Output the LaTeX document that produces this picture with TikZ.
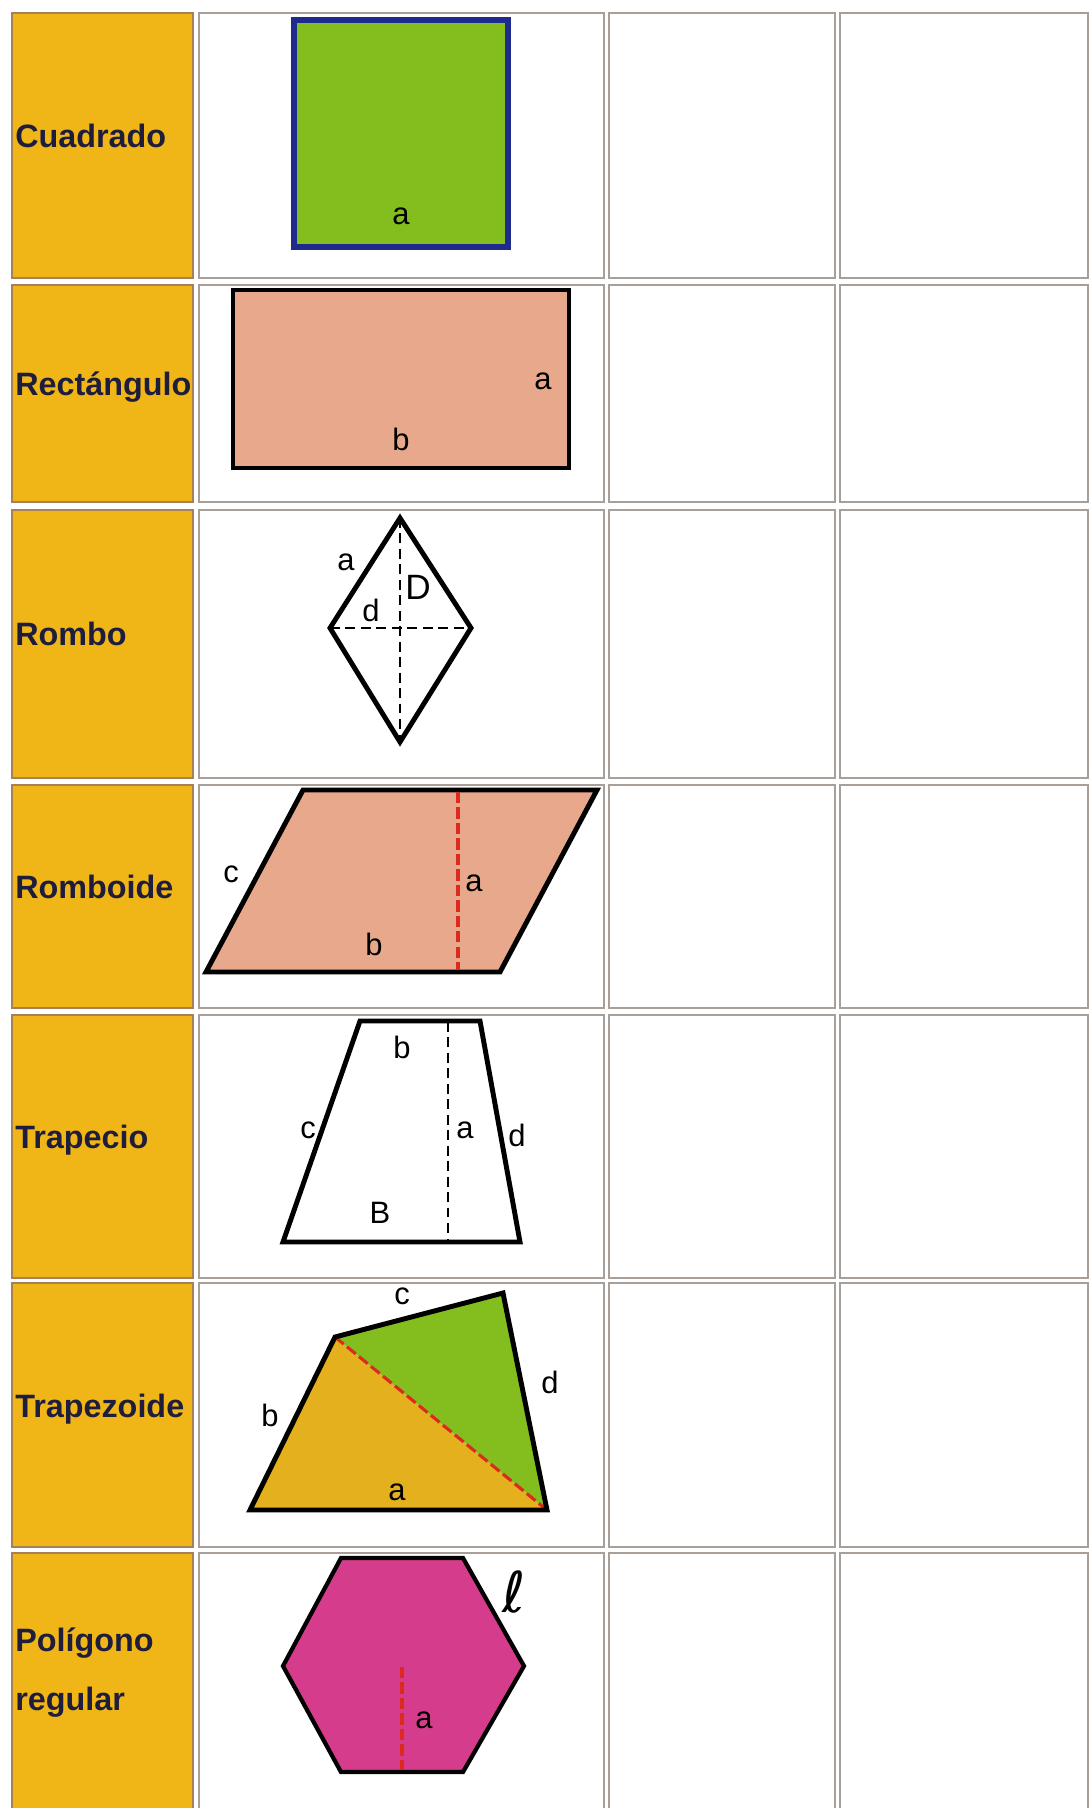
\documentclass[tikz,border=0pt]{standalone}
\usepackage{fontspec}
\setmainfont{Liberation Sans}
\newfontfamily\ellfont{DejaVu Sans}
\usepackage{tikz}
\usetikzlibrary{positioning}
\definecolor{cellgold}{HTML}{F0B618}
\definecolor{cellrule}{HTML}{A8A098}
\definecolor{labelink}{HTML}{1E1E3C}
\definecolor{leafgreen}{HTML}{84BE1E}
\definecolor{salmon}{HTML}{E8A88C}
\definecolor{navyrule}{HTML}{1E2A8C}
\definecolor{hexpink}{HTML}{D63C8C}
\definecolor{trapgold}{HTML}{E4B01E}
\definecolor{heightred}{HTML}{DC2A1E}
\tikzstyle{cell} = [draw=cellrule, line width=0.8pt]
\tikzstyle{goldcell} = [cell, fill=cellgold, draw=brown!60!gray]
\tikzstyle{rowname} = [anchor=base west, inner sep=0pt, align=left,
    font=\bfseries\fontsize{23}{42}\selectfont, text=labelink]
\tikzstyle{sidelabel} = [inner sep=0pt, font=\fontsize{22}{22}\selectfont, text=black]
\tikzstyle{outline} = [draw=black, line width=3.5pt, line join=miter]
\tikzstyle{diagline} = [draw=black, line width=1.6pt, dash pattern=on 7pt off 4pt]
\tikzstyle{heightline} = [draw=heightred, line width=2.6pt, dash pattern=on 8pt off 3pt]

\begin{document}
\begin{tikzpicture}[x=0.025cm, y=-0.025cm]
    \useasboundingbox (0,0) rectangle (1090,1808);
    \clip (0,0) rectangle (1090,1808);
    % Grid
    \foreach \ya/\yb in {13/278, 285/502, 510/778, 785/1008, 1015/1278, 1283/1547, 1553/1830} {
        \draw [goldcell] (12,\ya) rectangle (193,\yb);
        \draw [cell] (199,\ya) rectangle (604,\yb);
        \draw [cell] (609,\ya) rectangle (835,\yb);
        \draw [cell] (840,\ya) rectangle (1088,\yb);
    }
    % Row names
    \node [rowname] (cuadrado) at (15,147) {Cuadrado};
    \node [rowname] (rectangulo) at (15,395) {Rectángulo};
    \node [rowname] (rombo) at (15,645) {Rombo};
    \node [rowname] (romboide) at (15,898) {Romboide};
    \node [rowname] (trapecio) at (15,1148) {Trapecio};
    \node [rowname] (trapezoide) at (15,1417) {Trapezoide};
    \node [rowname, anchor=north west] (poligono) at (15,1627) {Polígono\\regular};
    % Cuadrado
    \draw [outline, draw=navyrule, line width=4pt, fill=leafgreen] (294,20) rectangle (508,247);
    \node [sidelabel] (sqa) at (401,216) {a};
    % Rectangulo
    \draw [outline, fill=salmon] (233,290) rectangle (569,468);
    \node [sidelabel] (reca) at (543,381) {a};
    \node [sidelabel] (recb) at (401,439) {b};
    % Rombo
    \draw [diagline] (400,518) -- (400,742);
    \draw [diagline] (330,628) -- (471,628);
    \draw [outline] (400,518) -- (471,628) -- (400,742) -- (330,628) -- cycle;
    \node [sidelabel] (roma) at (346,562) {a};
    \node [sidelabel, font=\fontsize{25}{25}\selectfont] (romD) at (418,587) {D};
    \node [sidelabel] (romd) at (371,610) {d};
    % Romboide
    \draw [outline, fill=salmon] (303,790) -- (597,790) -- (500,972) -- (206,972) -- cycle;
    \draw [heightline] (458,792) -- (458,970);
    \node [sidelabel] (rbc) at (231,874) {c};
    \node [sidelabel] (rba) at (474,883) {a};
    \node [sidelabel] (rbb) at (374,944) {b};
    % Trapecio
    \draw [diagline] (448,1022) -- (448,1241);
    \draw [outline] (360,1021) -- (480,1021) -- (520,1242) -- (283,1242) -- cycle;
    \node [sidelabel] (tpb) at (402,1047) {b};
    \node [sidelabel] (tpc) at (308,1130) {c};
    \node [sidelabel] (tpa) at (465,1130) {a};
    \node [sidelabel] (tpd) at (517,1135) {d};
    \node [sidelabel] (tpB) at (380,1213) {B};
    % Trapezoide
    \fill [trapgold] (335,1337) -- (547,1510) -- (250,1510) -- cycle;
    \fill [leafgreen] (335,1337) -- (503,1293) -- (547,1510) -- cycle;
    \draw [heightline, line width=2.2pt] (335,1337) -- (547,1510);
    \draw [outline] (335,1337) -- (503,1293) -- (547,1510) -- (250,1510) -- cycle;
    \node [sidelabel] (tzc) at (402,1296) {c};
    \node [sidelabel] (tzd) at (550,1382) {d};
    \node [sidelabel] (tzb) at (270,1415) {b};
    \node [sidelabel] (tza) at (397,1492) {a};
    % Poligono regular
    \draw [outline, line width=3pt, fill=hexpink] (341,1558) -- (463,1558) -- (524,1666)
        -- (463,1772) -- (341,1772) -- (283,1666) -- cycle;
    \draw [heightline] (402,1667) -- (402,1770);
    \node [sidelabel] (hexa) at (424,1720) {a};
    \node [sidelabel, font=\ellfont\fontsize{40}{40}\selectfont] (hexl) at (514,1592) {ℓ};
\end{tikzpicture}
\end{document}
